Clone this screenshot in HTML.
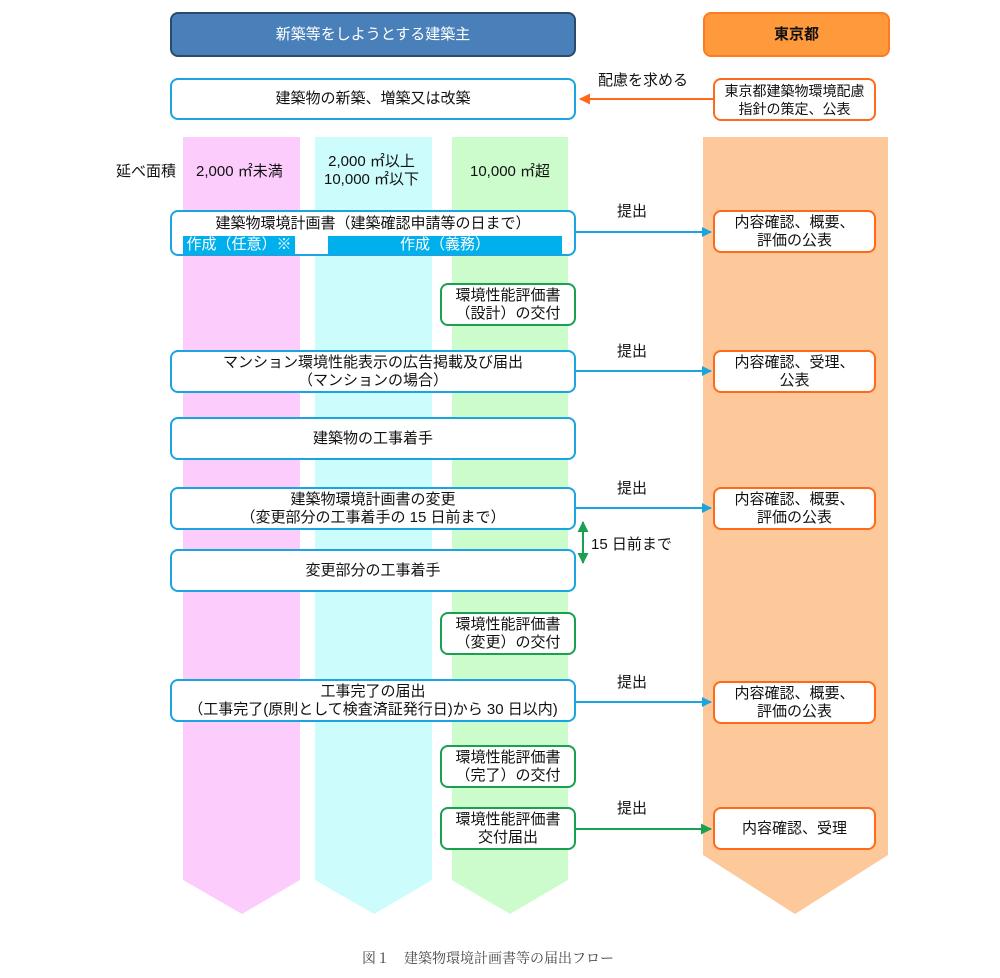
<!DOCTYPE html>
<html><head><meta charset="utf-8"><style>
body{margin:0;width:1000px;height:978px;background:#fff;position:relative;overflow:hidden;font-family:"Liberation Sans","Noto Sans CJK JP",sans-serif;color:#111}
.a{position:absolute;box-sizing:border-box;display:flex;flex-direction:column;align-items:center;justify-content:center;text-align:center;font-size:15px;line-height:18px}
.b{background:#fff;border:2px solid #1aa4e0;border-radius:8px}
.g{background:#fff;border:2px solid #1aa050;border-radius:8px}
.o{background:#fff;border:2px solid #ff6a1a;border-radius:8px}
.t{position:absolute;font-size:15px;line-height:18px;white-space:nowrap}
</style></head><body>
<svg width="1000" height="978" style="position:absolute;left:0;top:0">
<polygon points="183,137 300,137 300,880 242,914 183,880" fill="#fccdfc"/>
<polygon points="315,137 432,137 432,880 374,914 315,880" fill="#ccfcfc"/>
<polygon points="452,137 568,137 568,880 510,914 452,880" fill="#ccfccc"/>
<polygon points="703,137 888,137 888,855 795,914 703,855" fill="#fec99a"/>
<defs>
<marker id="mb" markerWidth="10" markerHeight="10" refX="9" refY="5" orient="auto" markerUnits="userSpaceOnUse"><path d="M0,0L10,5L0,10z" fill="#1aa4e0"/></marker>
<marker id="mg" markerWidth="11" markerHeight="11" refX="10" refY="5.5" orient="auto-start-reverse" markerUnits="userSpaceOnUse"><path d="M0,0L11,5.5L0,11z" fill="#1aa050"/></marker>
<marker id="mo" markerWidth="11" markerHeight="11" refX="10" refY="5.5" orient="auto" markerUnits="userSpaceOnUse"><path d="M0,0L11,5.5L0,11z" fill="#ff6a1a"/></marker>
</defs>
<line x1="713" y1="99" x2="580" y2="99" stroke="#ff6a1a" stroke-width="2" marker-end="url(#mo)"/>
<line x1="576" y1="232" x2="711" y2="232" stroke="#1aa4e0" stroke-width="2" marker-end="url(#mb)"/>
<line x1="576" y1="371" x2="711" y2="371" stroke="#1aa4e0" stroke-width="2" marker-end="url(#mb)"/>
<line x1="576" y1="508" x2="711" y2="508" stroke="#1aa4e0" stroke-width="2" marker-end="url(#mb)"/>
<line x1="576" y1="702" x2="711" y2="702" stroke="#1aa4e0" stroke-width="2" marker-end="url(#mb)"/>
<line x1="576" y1="829" x2="711" y2="829" stroke="#1aa050" stroke-width="2" marker-end="url(#mg)"/>
<line x1="583" y1="522" x2="583" y2="563" stroke="#1aa050" stroke-width="2" marker-start="url(#mg)" marker-end="url(#mg)"/>
</svg>
<div class="a" style="left:170px;top:12px;width:406px;height:45px;background:#4a80ba;border:2px solid #2b4a6e;border-radius:8px;color:#fff;font-size:15px">新築等をしようとする建築主</div>
<div class="a" style="left:703px;top:12px;width:187px;height:45px;background:#ff9a3c;border:2px solid #ff7a20;border-radius:8px;font-size:15px;font-weight:bold">東京都</div>
<div class="a b" style="left:170px;top:78px;width:406px;height:42px">建築物の新築、増築又は改築</div>
<div class="a o" style="left:713px;top:78px;width:163px;height:43px;font-size:14px">東京都建築物環境配慮<br>指針の策定、公表</div>
<div class="t" style="left:598px;top:72px">配慮を求める</div>
<div class="t" style="left:116px;top:163px">延べ面積</div>
<div class="t" style="left:196px;top:163px">2,000 ㎡未満</div>
<div class="t" style="left:324px;top:153px;text-align:center">2,000 ㎡以上<br>10,000 ㎡以下</div>
<div class="t" style="left:470px;top:163px">10,000 ㎡超</div>
<div class="a b" style="left:170px;top:210px;width:406px;height:46px;justify-content:flex-start;padding-top:3px">建築物環境計画書（建築確認申請等の日まで）</div>
<div class="a" style="left:183px;top:236px;width:112px;height:18px;background:#00b0ec;color:#fff;font-size:15px;line-height:18px">作成（任意）※</div>
<div class="a" style="left:328px;top:236px;width:234px;height:18px;background:#00b0ec;color:#fff;font-size:15px;line-height:18px">作成（義務）</div>
<div class="t" style="left:617px;top:203px">提出</div>
<div class="a o" style="left:713px;top:210px;width:163px;height:43px">内容確認、概要、<br>評価の公表</div>
<div class="a g" style="left:440px;top:283px;width:136px;height:43px">環境性能評価書<br>（設計）の交付</div>
<div class="a b" style="left:170px;top:350px;width:406px;height:43px">マンション環境性能表示の広告掲載及び届出<br>（マンションの場合）</div>
<div class="t" style="left:617px;top:343px">提出</div>
<div class="a o" style="left:713px;top:350px;width:163px;height:43px">内容確認、受理、<br>公表</div>
<div class="a b" style="left:170px;top:417px;width:406px;height:43px">建築物の工事着手</div>
<div class="a b" style="left:170px;top:487px;width:406px;height:43px">建築物環境計画書の変更<br>（変更部分の工事着手の 15 日前まで）</div>
<div class="t" style="left:617px;top:480px">提出</div>
<div class="a o" style="left:713px;top:487px;width:163px;height:43px">内容確認、概要、<br>評価の公表</div>
<div class="t" style="left:591px;top:536px">15 日前まで</div>
<div class="a b" style="left:170px;top:549px;width:406px;height:43px">変更部分の工事着手</div>
<div class="a g" style="left:440px;top:612px;width:136px;height:43px">環境性能評価書<br>（変更）の交付</div>
<div class="a b" style="left:170px;top:679px;width:406px;height:43px">工事完了の届出<br>（工事完了(原則として検査済証発行日)から 30 日以内)</div>
<div class="t" style="left:617px;top:674px">提出</div>
<div class="a o" style="left:713px;top:681px;width:163px;height:43px">内容確認、概要、<br>評価の公表</div>
<div class="a g" style="left:440px;top:745px;width:136px;height:43px">環境性能評価書<br>（完了）の交付</div>
<div class="a g" style="left:440px;top:807px;width:136px;height:43px">環境性能評価書<br>交付届出</div>
<div class="t" style="left:617px;top:800px">提出</div>
<div class="a o" style="left:713px;top:807px;width:163px;height:43px">内容確認、受理</div>
<div class="t" style="left:362px;top:951px;font-family:'Liberation Serif','Noto Serif CJK SC',serif;color:#444;font-size:14px">図１　建築物環境計画書等の届出フロー</div>
</body></html>
